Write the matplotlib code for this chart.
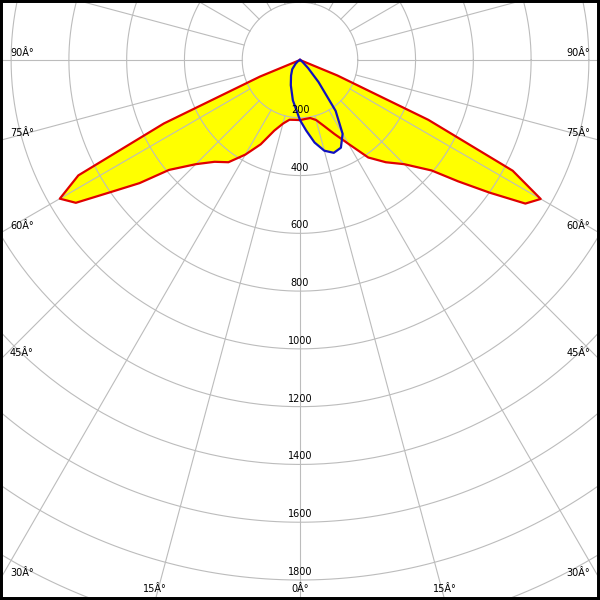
import numpy as np
import matplotlib
matplotlib.use("Agg")
import matplotlib.pyplot as plt

# luminous intensity (cd) vs angle from nadir (deg)
red_angles = [0, 5, 10, 15, 20, 25, 30, 35, 40, 45, 50, 52.5, 55, 57.5, 60, 62.5, 65, 67.5, 70, 80, 90]
red_left = [208, 208, 210, 228, 260, 322, 378, 432, 460, 510, 592, 700, 795, 920, 960, 865, 520, 150, 0, 0, 0]
red_right = [208, 205, 204, 215, 243, 283, 335, 412, 462, 510, 595, 690, 800, 925, 962, 830, 490, 140, 0, 0, 0]

blue_angles = [-90, -60, -50, -40, -30, -20, -10, 0, 5, 10, 15, 20, 25, 30, 35, 40, 45, 50, 60, 90]
blue_vals = [0, 8, 20, 42, 62, 93, 142, 208, 245, 290, 325, 342, 335, 295, 215, 100, 40, 15, 5, 0]

ring_values = [200, 400, 600, 800, 1000, 1200, 1400, 1600, 1800]
extra_rings = [2000, 2200, 2400]
side_labels = [90, 75, 60, 45, 30]
bottom_labels = [15, 0]

s = 520 / 1800.0  # px per cd
cx, cy = 300, 60   # centre in px (from top-left)


def to_xy(ang_deg, r):
    a = np.radians(np.asarray(ang_deg, dtype=float))
    r = np.asarray(r, dtype=float)
    return r * np.sin(a), -r * np.cos(a)


fig = plt.figure(figsize=(6, 6), dpi=100)
ax = fig.add_axes([0, 0, 1, 1])
ax.set_xlim(-cx / s, (600 - cx) / s)
ax.set_ylim(-(600 - cy) / s, cy / s)
ax.set_aspect("auto")
ax.set_xticks([])
ax.set_yticks([])
for sp in ax.spines.values():
    sp.set_linewidth(4.3)
    sp.set_color("black")

# red curve: left side from 90 down to 0, then right side 0 to 90
ang_full = [-a for a in red_angles[::-1]] + red_angles[1:]
val_full = red_left[::-1] + red_right[1:]
rx, ry = to_xy(ang_full, val_full)
bx, by = to_xy(blue_angles, blue_vals)

ax.fill(rx, ry, color="#ffff00", zorder=1, lw=0)
ax.fill(bx, by, color="#ffff00", zorder=1, lw=0)

grid_c = "#bcbcbc"
t = np.linspace(0, 2 * np.pi, 400)
for r in ring_values + extra_rings:
    ax.plot(r * np.cos(t), r * np.sin(t), color=grid_c, lw=0.8, zorder=2)
for a in np.arange(0, 360, 15):
    gx, gy = to_xy([a, a], [200, 2600])
    ax.plot(gx, gy, color=grid_c, lw=0.8, zorder=2)

ax.plot(rx, ry, color="#e00000", lw=1.6, zorder=3)
ax.plot(bx, by, color="#1010c0", lw=1.6, zorder=4)

for r in ring_values:
    ax.text(0, -r + 8 / s, str(r), ha="center", va="center", fontsize=7, zorder=5)

for a in side_labels:
    ya = -(cx / s) / np.tan(np.radians(a)) if a != 90 else 0.0
    yl = ya + 7 / s
    ax.text(-cx / s + 10 / s, yl, "%dÂ°" % a, ha="left", va="center", fontsize=7, zorder=5)
    ax.text((600 - cx) / s - 10 / s, yl, "%dÂ°" % a, ha="right", va="center", fontsize=7, zorder=5)

for a in bottom_labels:
    xa = (600 - cy) * np.tan(np.radians(a)) / s
    yl = -(600 - cy) / s + 11 / s
    for sx in ([-1, 1] if a else [1]):
        ax.text(sx * xa, yl, "%dÂ°" % a, ha="center", va="center", fontsize=7, zorder=5)

fig.savefig("out.png", dpi=100)
